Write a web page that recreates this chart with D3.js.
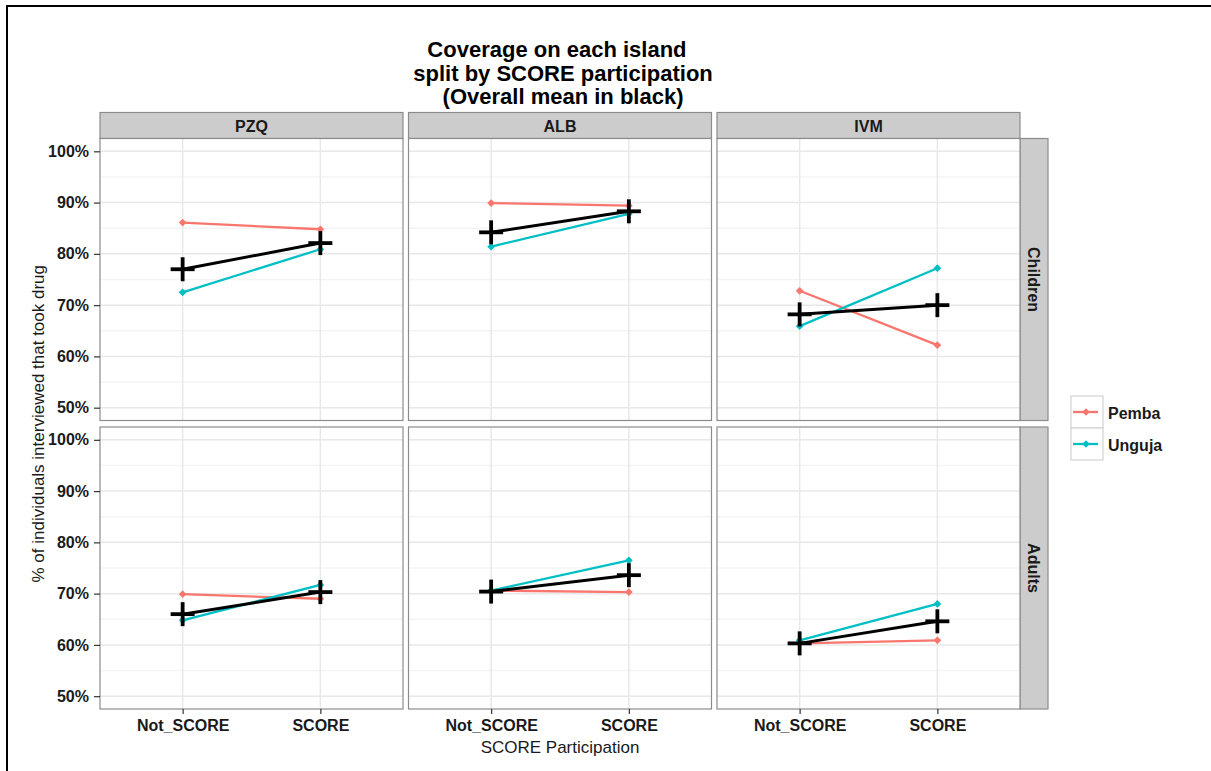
<!DOCTYPE html>
<html>
<head>
<meta charset="utf-8">
<script src="https://cdn.jsdelivr.net/npm/d3@7"></script>
<style>
  body { margin: 0; background: #fff; }
  svg { display: block; font-family: "Liberation Sans", Arial, sans-serif; }
</style>
</head>
<body>
<svg width="1211" height="771"></svg>
<script>
/* global d3 */

const drugs = ['PZQ', 'ALB', 'IVM']
const ageGroups = ['Children', 'Adults']
const participation = ['Not_SCORE', 'SCORE']
const islands = ['Pemba', 'Unguja']
const islandColors = ['#F8766D', '#00BFC4']

// coverage (%) for each drug as [Not_SCORE, SCORE]
const pembaChildren = [[86.1, 84.8], [89.9, 89.4], [72.8, 62.2]]
const ungujaChildren = [[72.5, 80.9], [81.4, 87.8], [65.9, 77.2]]
const meanChildren = [[77.0, 82.1], [84.2, 88.3], [68.2, 70.0]]
const pembaAdults = [[69.9, 69.0], [70.6, 70.3], [60.3, 60.9]]
const ungujaAdults = [[64.8, 71.7], [70.6, 76.5], [60.9, 68.0]]
const meanAdults = [[66.0, 70.3], [70.4, 73.6], [60.3, 64.6]]

const yTicks = [50, 60, 70, 80, 90, 100]
const yMinor = [55, 65, 75, 85, 95]

const rows = [
  { islands: [pembaChildren, ungujaChildren], mean: meanChildren },
  { islands: [pembaAdults, ungujaAdults], mean: meanAdults }
]

const svg = d3.select('svg')

const left = 100
const panelW = 303
const gapX = 5.5
const tops = [138.5, 427]
const panelH = 282
const stripH = 26
const stripW = 28

const xScale = d3.scalePoint()
  .domain(participation)
  .range([0, panelW])
  .padding(0.6)

const yScale = d3.scaleLinear()
  .domain([47.5, 102.5])
  .range([panelH, 0])

const line = d3.line()
  .x((d, i) => xScale(participation[i]))
  .y((d) => yScale(d))

svg.append('rect')
  .attr('width', 1211).attr('height', 771)
  .attr('fill', '#fff')

// outer frame of the exported figure
svg.append('path')
  .attr('d', 'M7,775V6H1215')
  .attr('fill', 'none')
  .attr('stroke', '#000')
  .attr('stroke-width', 2)

// title
const titleLines = ['Coverage on each island ', ' split by SCORE participation', ' (Overall mean in black)']
svg.append('text')
  .attr('text-anchor', 'middle')
  .style('font-size', '22px')
  .style('font-weight', 'bold')
  .style('white-space', 'pre')
  .selectAll('tspan')
  .data(titleLines)
  .join('tspan')
  .attr('x', 560)
  .attr('y', (d, i) => 57 + i * 23.5)
  .text((d) => d)

// strips on top
drugs.forEach((drug, c) => {
  const x0 = left + c * (panelW + gapX)
  svg.append('rect')
    .attr('x', x0).attr('y', tops[0] - stripH)
    .attr('width', panelW).attr('height', stripH)
    .attr('fill', '#cccccc')
    .attr('stroke', '#8c8c8c')
    .attr('stroke-width', 1.2)
  svg.append('text')
    .attr('x', x0 + panelW / 2)
    .attr('y', tops[0] - stripH / 2 + 6)
    .attr('text-anchor', 'middle')
    .style('font-size', '16px')
    .style('font-weight', 'bold')
    .attr('fill', '#1a1a1a')
    .text(drug)
})

rows.forEach((row, r) => {
  // strip on the right
  const sx = left + 3 * panelW + 2 * gapX
  svg.append('rect')
    .attr('x', sx).attr('y', tops[r])
    .attr('width', stripW).attr('height', panelH)
    .attr('fill', '#cccccc')
    .attr('stroke', '#8c8c8c')
    .attr('stroke-width', 1.2)
  svg.append('text')
    .attr('transform', `translate(${sx + stripW / 2 - 6},${tops[r] + panelH / 2}) rotate(90)`)
    .attr('text-anchor', 'middle')
    .style('font-size', '16px')
    .style('font-weight', 'bold')
    .attr('fill', '#1a1a1a')
    .text(ageGroups[r])

  drugs.forEach((drug, c) => {
    const g = svg.append('g')
      .attr('transform', `translate(${left + c * (panelW + gapX)},${tops[r]})`)

    g.append('rect')
      .attr('width', panelW).attr('height', panelH)
      .attr('fill', '#fff')

    g.selectAll('line.minor').data(yMinor).join('line')
      .attr('class', 'minor')
      .attr('x1', 0).attr('x2', panelW)
      .attr('y1', yScale).attr('y2', yScale)
      .attr('stroke', '#f4f4f4')
      .attr('stroke-width', 1.5)

    g.selectAll('line.major').data(yTicks).join('line')
      .attr('class', 'major')
      .attr('x1', 0).attr('x2', panelW)
      .attr('y1', yScale).attr('y2', yScale)
      .attr('stroke', '#e8e8e8')
      .attr('stroke-width', 1.5)

    g.selectAll('line.vgrid').data(participation).join('line')
      .attr('class', 'vgrid')
      .attr('x1', xScale).attr('x2', xScale)
      .attr('y1', 0).attr('y2', panelH)
      .attr('stroke', '#e8e8e8')
      .attr('stroke-width', 1.5)

    // island lines with diamond points
    islands.forEach((island, k) => {
      const vals = row.islands[k][c]
      g.append('path')
        .attr('d', line(vals))
        .attr('fill', 'none')
        .attr('stroke', islandColors[k])
        .attr('stroke-width', 2.3)
      g.selectAll(`path.pt${k}`).data(vals).join('path')
        .attr('class', `pt${k}`)
        .attr('d', d3.symbol(d3.symbolDiamond2, 38))
        .attr('transform', (d, i) => `translate(${xScale(participation[i])},${yScale(d)})`)
        .attr('fill', islandColors[k])
    })

    // overall mean in black
    const mean = row.mean[c]
    g.append('path')
      .attr('d', line(mean))
      .attr('fill', 'none')
      .attr('stroke', '#000')
      .attr('stroke-width', 3)
    const cross = g.selectAll('g.cross').data(mean).join('g')
      .attr('class', 'cross')
      .attr('transform', (d, i) => `translate(${xScale(participation[i])},${yScale(d)})`)
    cross.append('line')
      .attr('x1', -12).attr('x2', 12)
      .attr('stroke', '#000').attr('stroke-width', 3.8)
    cross.append('line')
      .attr('y1', -12).attr('y2', 12)
      .attr('stroke', '#000').attr('stroke-width', 3.8)

    g.append('rect')
      .attr('width', panelW).attr('height', panelH)
      .attr('fill', 'none')
      .attr('stroke', '#8c8c8c')
      .attr('stroke-width', 1.2)

    if (c === 0) {
      const yAxis = d3.axisLeft(yScale)
        .tickValues(yTicks)
        .tickSize(6)
        .tickPadding(5)
        .tickFormat((d) => `${d}%`)
      const ya = g.append('g').call(yAxis)
      ya.select('.domain').remove()
      ya.selectAll('line').attr('stroke', '#333').attr('stroke-width', 1.2)
      ya.selectAll('text')
        .style('font-size', '16px')
        .style('font-weight', 'bold')
        .style('font-family', '"Liberation Sans", Arial, sans-serif')
        .attr('fill', '#1a1a1a')
    }

    if (r === 1) {
      const xAxis = d3.axisBottom(xScale)
        .tickSize(5)
        .tickPadding(6)
      const xa = g.append('g')
        .attr('transform', `translate(0,${panelH})`)
        .call(xAxis)
      xa.select('.domain').remove()
      xa.selectAll('line').attr('stroke', '#333').attr('stroke-width', 1.2)
      xa.selectAll('text')
        .style('font-size', '16px')
        .style('font-weight', 'bold')
        .style('font-family', '"Liberation Sans", Arial, sans-serif')
        .attr('fill', '#1a1a1a')
    }
  })
})

// axis titles
svg.append('text')
  .attr('transform', `translate(44,${(tops[0] + tops[1] + panelH) / 2}) rotate(-90)`)
  .attr('text-anchor', 'middle')
  .style('font-size', '17px')
  .attr('fill', '#1a1a1a')
  .text('% of individuals interviewed that took drug')

svg.append('text')
  .attr('x', left + (3 * panelW + 2 * gapX) / 2)
  .attr('y', 753)
  .attr('text-anchor', 'middle')
  .style('font-size', '17px')
  .attr('fill', '#1a1a1a')
  .text('SCORE Participation')

// legend
const legend = svg.append('g').attr('transform', 'translate(1071,396)')
const keySize = 32
const item = legend.selectAll('g').data(islands).join('g')
  .attr('transform', (d, i) => `translate(0,${i * keySize})`)
item.append('rect')
  .attr('width', keySize).attr('height', keySize)
  .attr('fill', '#fff')
  .attr('stroke', '#d2d2d2')
  .attr('stroke-width', 1.2)
item.append('line')
  .attr('x1', 2).attr('x2', keySize - 5)
  .attr('y1', keySize / 2).attr('y2', keySize / 2)
  .attr('stroke', (d, i) => islandColors[i])
  .attr('stroke-width', 2.3)
item.append('path')
  .attr('d', d3.symbol(d3.symbolDiamond2, 38))
  .attr('transform', `translate(${keySize / 2 - 1},${keySize / 2})`)
  .attr('fill', (d, i) => islandColors[i])
item.append('text')
  .attr('x', keySize + 5)
  .attr('y', keySize / 2 + 7)
  .style('font-size', '16px')
  .style('font-weight', 'bold')
  .attr('fill', '#1a1a1a')
  .text((d) => d)
</script>
</body>
</html>
